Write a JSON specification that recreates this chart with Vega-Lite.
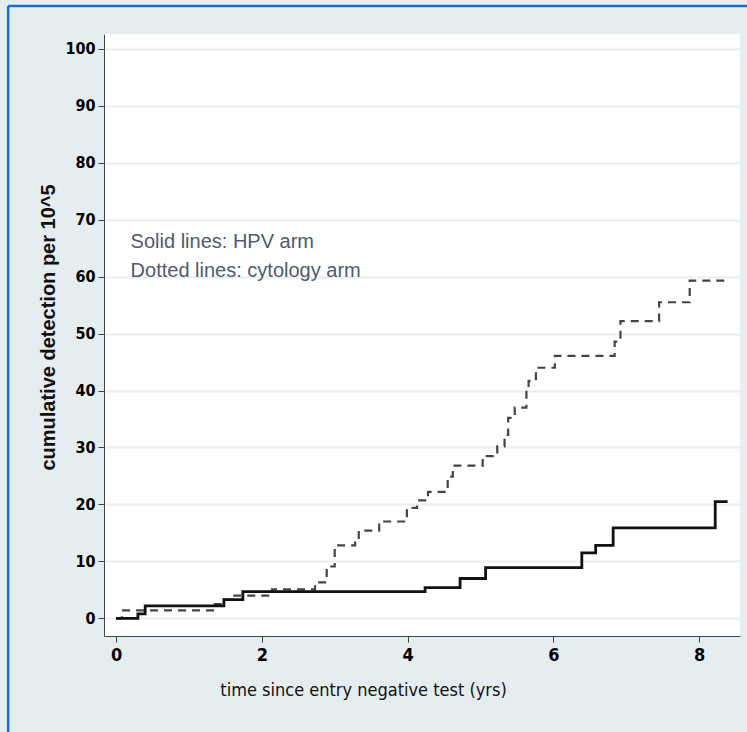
{
  "$schema": "https://vega.github.io/schema/vega-lite/v6.json",
  "width": 636,
  "height": 602,
  "autosize": {"type": "none"},
  "padding": {"left": 104, "top": 34, "right": 7, "bottom": 96},
  "background": "#e6edf0",
  "config": {
    "view": {"fill": "white", "stroke": null},
    "font": "Liberation Sans",
    "axis": {
      "domainColor": "#444444",
      "tickColor": "#444444",
      "labelColor": "#000000",
      "titleColor": "#111111",
      "labelFont": "DejaVu Sans Condensed, Liberation Sans, sans-serif",
      "titleFont": "DejaVu Sans Condensed, Liberation Sans, sans-serif",
      "titleFontWeight": "normal"
    }
  },
  "datasets": {
    "curves": [
      {"arm": "cytology", "t": 0, "v": 0},
      {"arm": "cytology", "t": 0.08, "v": 1.4},
      {"arm": "cytology", "t": 1.33, "v": 2.5},
      {"arm": "cytology", "t": 1.48, "v": 3.3},
      {"arm": "cytology", "t": 1.6, "v": 4.0},
      {"arm": "cytology", "t": 2.14, "v": 5.1},
      {"arm": "cytology", "t": 2.73, "v": 6.3},
      {"arm": "cytology", "t": 2.89, "v": 9.1},
      {"arm": "cytology", "t": 3.0, "v": 12.8},
      {"arm": "cytology", "t": 3.28, "v": 13.9},
      {"arm": "cytology", "t": 3.33, "v": 15.4},
      {"arm": "cytology", "t": 3.61, "v": 17.0},
      {"arm": "cytology", "t": 3.99, "v": 19.4},
      {"arm": "cytology", "t": 4.13, "v": 20.7},
      {"arm": "cytology", "t": 4.28, "v": 22.2},
      {"arm": "cytology", "t": 4.55, "v": 24.9},
      {"arm": "cytology", "t": 4.62, "v": 26.8},
      {"arm": "cytology", "t": 5.03, "v": 28.5},
      {"arm": "cytology", "t": 5.23, "v": 30.2},
      {"arm": "cytology", "t": 5.33, "v": 32.2},
      {"arm": "cytology", "t": 5.38, "v": 35.2},
      {"arm": "cytology", "t": 5.47, "v": 37.0},
      {"arm": "cytology", "t": 5.63, "v": 40.0},
      {"arm": "cytology", "t": 5.66, "v": 41.7},
      {"arm": "cytology", "t": 5.76, "v": 44.0},
      {"arm": "cytology", "t": 6.02, "v": 46.1},
      {"arm": "cytology", "t": 6.84, "v": 48.6},
      {"arm": "cytology", "t": 6.92, "v": 52.2},
      {"arm": "cytology", "t": 7.45, "v": 55.5},
      {"arm": "cytology", "t": 7.87, "v": 59.3},
      {"arm": "cytology", "t": 8.37, "v": 59.3},
      {"arm": "HPV", "t": 0, "v": 0},
      {"arm": "HPV", "t": 0.3, "v": 0.8},
      {"arm": "HPV", "t": 0.4, "v": 2.2},
      {"arm": "HPV", "t": 1.48, "v": 3.3},
      {"arm": "HPV", "t": 1.74, "v": 4.7},
      {"arm": "HPV", "t": 4.24, "v": 5.4},
      {"arm": "HPV", "t": 4.72, "v": 7.0},
      {"arm": "HPV", "t": 5.07, "v": 8.9},
      {"arm": "HPV", "t": 6.39, "v": 11.5},
      {"arm": "HPV", "t": 6.58, "v": 12.8},
      {"arm": "HPV", "t": 6.82, "v": 15.9},
      {"arm": "HPV", "t": 8.22, "v": 20.5},
      {"arm": "HPV", "t": 8.39, "v": 20.5}
    ],
    "notes": [{"note": "Solid lines: HPV arm\nDotted lines: cytology arm"}]
  },
  "layer": [
    {
      "data": {"name": "curves"},
      "transform": [{"filter": "datum.arm === 'cytology'"}],
      "mark": {"type": "line", "interpolate": "step-after", "color": "#444444", "strokeWidth": 2.2, "strokeDash": [8, 6]},
      "encoding": {
        "x": {
          "field": "t", "type": "quantitative",
          "scale": {"domain": [-0.165, 8.56], "nice": false, "zero": false},
          "axis": {
            "values": [0, 2, 4, 6, 8], "format": "d", "grid": false, "tickSize": 6,
            "labelFontSize": 18, "labelFontWeight": "bold", "labelPadding": 4,
            "title": "time since entry negative test (yrs)",
            "titleFontSize": 18, "titleX": 259, "titleY": 54, "titleBaseline": "middle", "titleAnchor": "middle", "titleAlign": "center"
          }
        },
        "y": {
          "field": "v", "type": "quantitative",
          "scale": {"domain": [-3.1, 102.6], "nice": false, "zero": false},
          "axis": {
            "values": [0, 10, 20, 30, 40, 50, 60, 70, 80, 90, 100], "format": "d",
            "grid": true, "gridColor": "#e8eef2", "gridWidth": 2,
            "tickSize": 6, "labelFontSize": 16, "labelFontWeight": "bold", "labelPadding": 3,
            "title": "cumulative detection per 10^5",
            "titleFont": "Liberation Sans", "titleFontSize": 20, "titleFontWeight": "bold",
            "titleX": -56, "titleY": 293, "titleAngle": -90, "titleBaseline": "middle", "titleAlign": "center"
          }
        }
      }
    },
    {
      "data": {"name": "curves"},
      "transform": [{"filter": "datum.arm === 'HPV'"}],
      "mark": {"type": "line", "interpolate": "step-after", "color": "#111111", "strokeWidth": 2.8},
      "encoding": {
        "x": {"field": "t", "type": "quantitative"},
        "y": {"field": "v", "type": "quantitative"}
      }
    },
    {
      "data": {"name": "notes"},
      "transform": [{"calculate": "split(datum.note, '\\n')", "as": "lines"}],
      "mark": {
        "type": "text", "align": "left", "baseline": "alphabetic",
        "font": "Liberation Sans", "fontSize": 20, "lineHeight": 29, "color": "#4d5b70"
      },
      "encoding": {
        "text": {"field": "lines"},
        "x": {"datum": 0.2, "type": "quantitative"},
        "y": {"datum": 65.1, "type": "quantitative"}
      }
    },
    {
      "data": {"name": "notes"},
      "mark": {"type": "rule", "color": "#1f6fc0", "strokeWidth": 2.5, "clip": false},
      "encoding": {
        "x": {"datum": -1.48, "type": "quantitative"},
        "y": {"datum": -20, "type": "quantitative"},
        "y2": {"datum": 107.5}
      }
    },
    {
      "data": {"name": "notes"},
      "mark": {"type": "rule", "color": "#1f6fc0", "strokeWidth": 2.5, "clip": false},
      "encoding": {
        "x": {"datum": -1.48, "type": "quantitative"},
        "x2": {"datum": 8.7},
        "y": {"datum": 107.5, "type": "quantitative"}
      }
    }
  ]
}
